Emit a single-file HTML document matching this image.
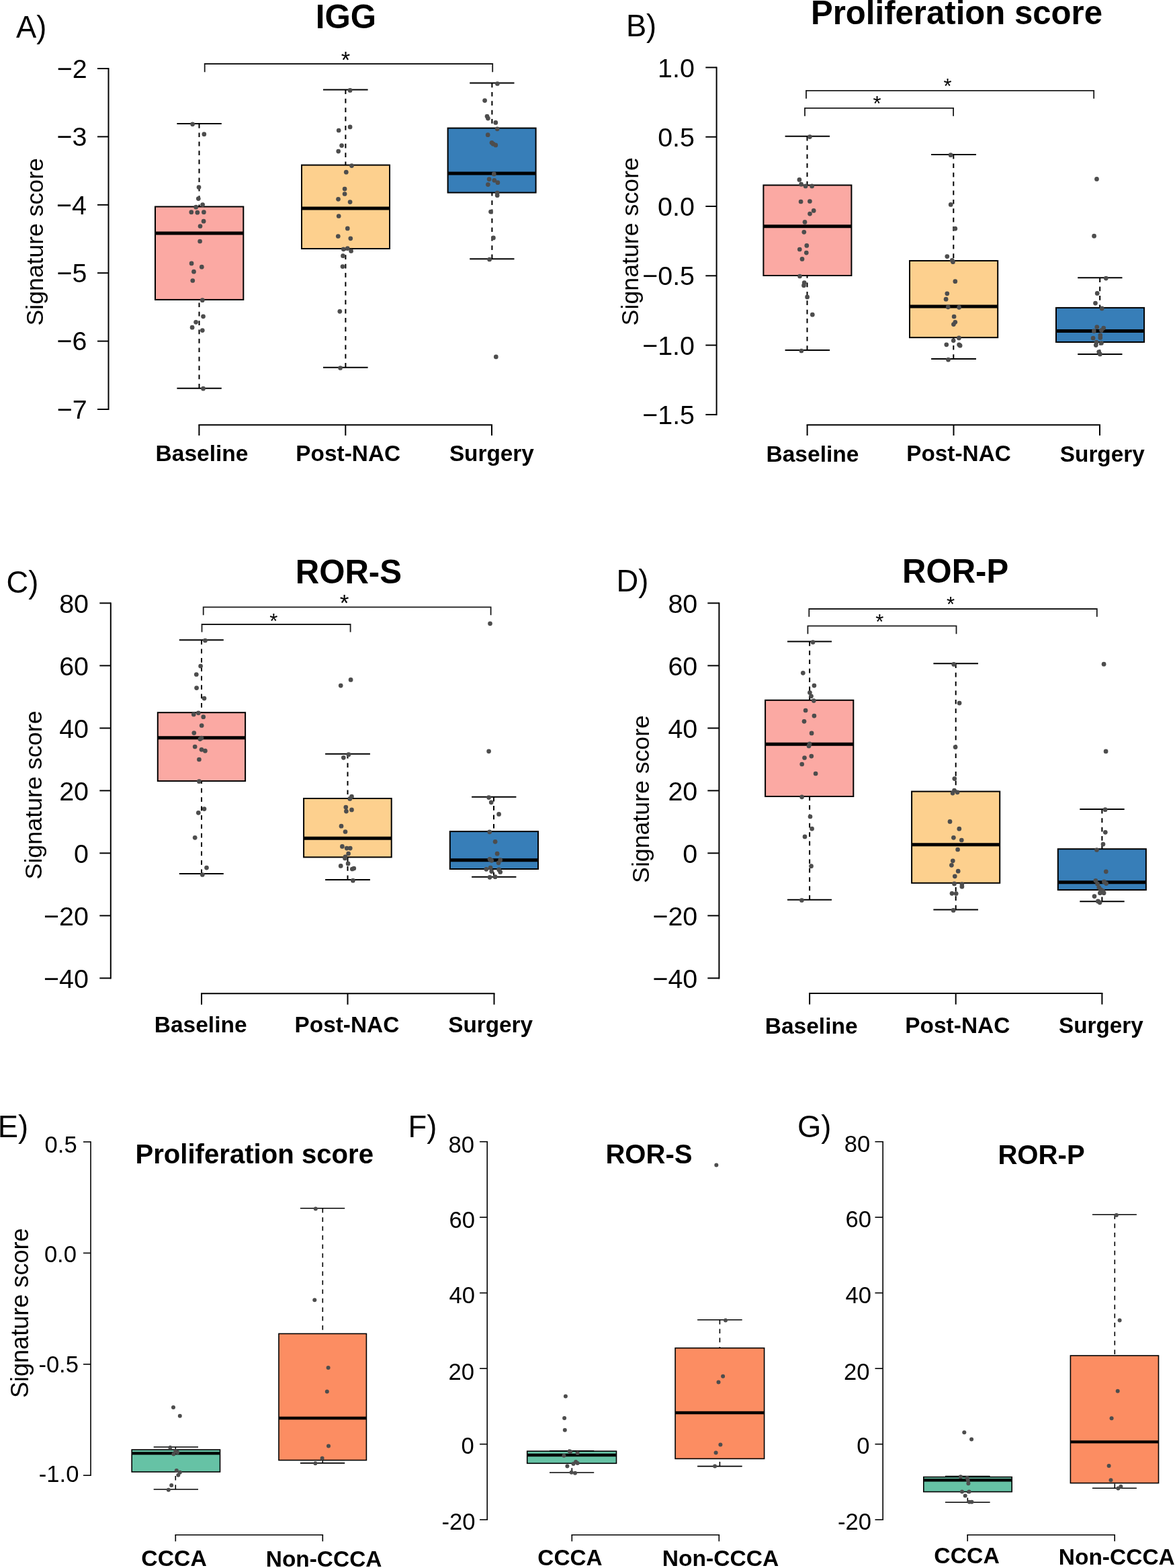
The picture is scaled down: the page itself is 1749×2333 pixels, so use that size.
<!DOCTYPE html>
<html><head><meta charset="utf-8"><title>Signature score boxplots</title>
<style>
html,body{margin:0;padding:0;background:#fff;overflow:hidden;}
svg{display:block;}
svg text{font-family:'Liberation Sans', Arial, Helvetica, sans-serif;fill:#000;}
svg circle{fill:#4D4D4D;}
</style></head><body>
<svg width="1749" height="2333" viewBox="0 0 1749 2333">
<rect width="1749" height="2333" fill="#fff"/>
<text x="24.02" y="56" font-size="45.3">A)</text>
<text x="469.77" y="41.8" font-size="49.28" font-weight="bold">IGG</text>
<line x1="161.5" y1="102" x2="161.5" y2="609" stroke="#000" stroke-width="2" stroke-linecap="square"/>
<line x1="145" y1="102" x2="161.5" y2="102" stroke="#000" stroke-width="2"/>
<text x="84.85" y="115.84" font-size="39.4">−2</text>
<line x1="145" y1="203.4" x2="161.5" y2="203.4" stroke="#000" stroke-width="2"/>
<text x="84.56" y="217.24" font-size="39.4">−3</text>
<line x1="145" y1="304.8" x2="161.5" y2="304.8" stroke="#000" stroke-width="2"/>
<text x="83.97" y="318.64" font-size="39.4">−4</text>
<line x1="145" y1="406.2" x2="161.5" y2="406.2" stroke="#000" stroke-width="2"/>
<text x="84.46" y="420.04" font-size="39.4">−5</text>
<line x1="145" y1="507.6" x2="161.5" y2="507.6" stroke="#000" stroke-width="2"/>
<text x="84.56" y="521.44" font-size="39.4">−6</text>
<line x1="145" y1="609" x2="161.5" y2="609" stroke="#000" stroke-width="2"/>
<text x="84.85" y="622.84" font-size="39.4">−7</text>
<text transform="translate(64.1,484.4) rotate(-90)" x="0" y="0" font-size="35.6">Signature score</text>
<line x1="296.4" y1="632.3" x2="732" y2="632.3" stroke="#000" stroke-width="2" stroke-linecap="square"/>
<line x1="296.4" y1="632.3" x2="296.4" y2="648" stroke="#000" stroke-width="2"/>
<line x1="514.3" y1="632.3" x2="514.3" y2="648" stroke="#000" stroke-width="2"/>
<line x1="732" y1="632.3" x2="732" y2="648" stroke="#000" stroke-width="2"/>
<text x="231.54" y="686" font-size="33.55" font-weight="bold">Baseline</text>
<text x="440.35" y="686" font-size="33.4" font-weight="bold">Post-NAC</text>
<text x="668.9" y="686" font-size="33.35" font-weight="bold">Surgery</text>
<path d="M304.7 107.2V95H733.2V107.2" fill="none" stroke="#1a1a1a" stroke-width="1.8"/>
<text x="507.86" y="100.97" font-size="34.57">*</text>
<line x1="296.5" y1="184" x2="296.5" y2="307.5" stroke="#000" stroke-width="2" stroke-dasharray="6.7 6.7"/>
<line x1="296.5" y1="577.7" x2="296.5" y2="445.9" stroke="#000" stroke-width="2" stroke-dasharray="6.7 6.7"/>
<line x1="263.4" y1="184" x2="329.8" y2="184" stroke="#000" stroke-width="2"/>
<line x1="263.4" y1="577.7" x2="329.8" y2="577.7" stroke="#000" stroke-width="2"/>
<rect x="231" y="307.5" width="131.3" height="138.4" fill="#FBA9A3" stroke="#000" stroke-width="2"/>
<line x1="231" y1="347" x2="362.3" y2="347" stroke="#000" stroke-width="5"/>
<line x1="514.4" y1="133.4" x2="514.4" y2="245.6" stroke="#000" stroke-width="2" stroke-dasharray="6.7 6.7"/>
<line x1="514.4" y1="546.8" x2="514.4" y2="370" stroke="#000" stroke-width="2" stroke-dasharray="6.7 6.7"/>
<line x1="481" y1="133.4" x2="547.6" y2="133.4" stroke="#000" stroke-width="2"/>
<line x1="481" y1="546.8" x2="547.6" y2="546.8" stroke="#000" stroke-width="2"/>
<rect x="449" y="245.6" width="131" height="124.4" fill="#FDD08E" stroke="#000" stroke-width="2"/>
<line x1="449" y1="310" x2="580" y2="310" stroke="#000" stroke-width="5"/>
<line x1="732.4" y1="123.5" x2="732.4" y2="190.6" stroke="#000" stroke-width="2" stroke-dasharray="6.7 6.7"/>
<line x1="732.4" y1="385.3" x2="732.4" y2="286.6" stroke="#000" stroke-width="2" stroke-dasharray="6.7 6.7"/>
<line x1="699.2" y1="123.5" x2="765.5" y2="123.5" stroke="#000" stroke-width="2"/>
<line x1="699.2" y1="385.3" x2="765.5" y2="385.3" stroke="#000" stroke-width="2"/>
<rect x="666.6" y="190.6" width="131" height="96" fill="#377EB8" stroke="#000" stroke-width="2"/>
<line x1="666.6" y1="258.1" x2="797.6" y2="258.1" stroke="#000" stroke-width="5"/>
<circle cx="286.6" cy="184.8" r="3.35"/>
<circle cx="303.8" cy="199.7" r="3.35"/>
<circle cx="296" cy="278.6" r="3.35"/>
<circle cx="295.3" cy="295.6" r="3.35"/>
<circle cx="301.6" cy="304.6" r="3.35"/>
<circle cx="291.7" cy="308.2" r="3.35"/>
<circle cx="284.8" cy="315.7" r="3.35"/>
<circle cx="293.8" cy="316.2" r="3.35"/>
<circle cx="303.4" cy="315.7" r="3.35"/>
<circle cx="303.1" cy="329.2" r="3.35"/>
<circle cx="298" cy="336.5" r="3.35"/>
<circle cx="297.6" cy="359" r="3.35"/>
<circle cx="285.1" cy="391.9" r="3.35"/>
<circle cx="300.3" cy="397.2" r="3.35"/>
<circle cx="288.5" cy="404.2" r="3.35"/>
<circle cx="286.8" cy="417.5" r="3.35"/>
<circle cx="301.3" cy="446.7" r="3.35"/>
<circle cx="302.5" cy="470.8" r="3.35"/>
<circle cx="291.6" cy="479.3" r="3.35"/>
<circle cx="286.1" cy="487.2" r="3.35"/>
<circle cx="301.3" cy="491.6" r="3.35"/>
<circle cx="302.5" cy="578.2" r="3.35"/>
<circle cx="521.1" cy="134.4" r="3.35"/>
<circle cx="521.1" cy="188.9" r="3.35"/>
<circle cx="504.2" cy="194" r="3.35"/>
<circle cx="508.6" cy="216.6" r="3.35"/>
<circle cx="503.7" cy="225.1" r="3.35"/>
<circle cx="523.5" cy="246.6" r="3.35"/>
<circle cx="515.3" cy="256.2" r="3.35"/>
<circle cx="513.1" cy="281.1" r="3.35"/>
<circle cx="513.1" cy="288.5" r="3.35"/>
<circle cx="503.5" cy="296.3" r="3.35"/>
<circle cx="521.1" cy="300.6" r="3.35"/>
<circle cx="504.2" cy="321.5" r="3.35"/>
<circle cx="517.3" cy="339.9" r="3.35"/>
<circle cx="503.3" cy="351.5" r="3.35"/>
<circle cx="521.8" cy="354.8" r="3.35"/>
<circle cx="511.2" cy="370.8" r="3.35"/>
<circle cx="517.3" cy="369.6" r="3.35"/>
<circle cx="522.6" cy="373.5" r="3.35"/>
<circle cx="510.5" cy="380.7" r="3.35"/>
<circle cx="510" cy="396.6" r="3.35"/>
<circle cx="505.8" cy="463.3" r="3.35"/>
<circle cx="506.6" cy="547.5" r="3.35"/>
<circle cx="740.4" cy="124.5" r="3.35"/>
<circle cx="721.6" cy="149.6" r="3.35"/>
<circle cx="725" cy="173" r="3.35"/>
<circle cx="726.4" cy="176.1" r="3.35"/>
<circle cx="737.8" cy="182.4" r="3.35"/>
<circle cx="740.2" cy="191.8" r="3.35"/>
<circle cx="726.2" cy="200.7" r="3.35"/>
<circle cx="732" cy="212.3" r="3.35"/>
<circle cx="734.1" cy="214.2" r="3.35"/>
<circle cx="737.8" cy="215.9" r="3.35"/>
<circle cx="735.3" cy="258.9" r="3.35"/>
<circle cx="728.1" cy="266.6" r="3.35"/>
<circle cx="735.8" cy="268.3" r="3.35"/>
<circle cx="740.9" cy="271.7" r="3.35"/>
<circle cx="726.4" cy="274.6" r="3.35"/>
<circle cx="740.2" cy="287.1" r="3.35"/>
<circle cx="740.2" cy="290.7" r="3.35"/>
<circle cx="730.5" cy="315.1" r="3.35"/>
<circle cx="734.4" cy="353.9" r="3.35"/>
<circle cx="728.6" cy="386" r="3.35"/>
<circle cx="738.3" cy="530.9" r="3.35"/>
<text x="931.92" y="54.2" font-size="45.3">B)</text>
<text x="1206.98" y="35.8" font-size="49.14" font-weight="bold">Proliferation score</text>
<line x1="1066.6" y1="100.4" x2="1066.6" y2="616.9" stroke="#000" stroke-width="2" stroke-linecap="square"/>
<line x1="1050.3" y1="100.4" x2="1066.6" y2="100.4" stroke="#000" stroke-width="2"/>
<text x="979.11" y="114.54" font-size="39.4">1.0</text>
<line x1="1050.3" y1="203.7" x2="1066.6" y2="203.7" stroke="#000" stroke-width="2"/>
<text x="979.21" y="217.84" font-size="39.4">0.5</text>
<line x1="1050.3" y1="307" x2="1066.6" y2="307" stroke="#000" stroke-width="2"/>
<text x="979.11" y="321.14" font-size="39.4">0.0</text>
<line x1="1050.3" y1="410.3" x2="1066.6" y2="410.3" stroke="#000" stroke-width="2"/>
<text x="956.26" y="424.44" font-size="39.4">−0.5</text>
<line x1="1050.3" y1="513.6" x2="1066.6" y2="513.6" stroke="#000" stroke-width="2"/>
<text x="956.16" y="527.74" font-size="39.4">−1.0</text>
<line x1="1050.3" y1="616.9" x2="1066.6" y2="616.9" stroke="#000" stroke-width="2"/>
<text x="956.26" y="631.04" font-size="39.4">−1.5</text>
<text transform="translate(949.8,484.41) rotate(-90)" x="0" y="0" font-size="35.75">Signature score</text>
<line x1="1201.6" y1="632.2" x2="1637" y2="632.2" stroke="#000" stroke-width="2" stroke-linecap="square"/>
<line x1="1201.6" y1="632.2" x2="1201.6" y2="648" stroke="#000" stroke-width="2"/>
<line x1="1419.5" y1="632.2" x2="1419.5" y2="648" stroke="#000" stroke-width="2"/>
<line x1="1637" y1="632.2" x2="1637" y2="648" stroke="#000" stroke-width="2"/>
<text x="1140.44" y="687" font-size="33.55" font-weight="bold">Baseline</text>
<text x="1349.25" y="686" font-size="33.33" font-weight="bold">Post-NAC</text>
<text x="1577.8" y="687" font-size="33.35" font-weight="bold">Surgery</text>
<path d="M1200 146.8V134.8H1628.2V146.8" fill="none" stroke="#1a1a1a" stroke-width="1.8"/>
<text x="1404.48" y="139.01" font-size="30.86">*</text>
<path d="M1198 172.8V160.8H1419.1V172.8" fill="none" stroke="#1a1a1a" stroke-width="1.8"/>
<text x="1299.58" y="164.91" font-size="30.86">*</text>
<line x1="1201.5" y1="202.8" x2="1201.5" y2="275.5" stroke="#000" stroke-width="2" stroke-dasharray="6.7 6.7"/>
<line x1="1201.5" y1="521" x2="1201.5" y2="410" stroke="#000" stroke-width="2" stroke-dasharray="6.7 6.7"/>
<line x1="1168.6" y1="202.8" x2="1235.1" y2="202.8" stroke="#000" stroke-width="2"/>
<line x1="1168.6" y1="521" x2="1235.1" y2="521" stroke="#000" stroke-width="2"/>
<rect x="1136.4" y="275.5" width="131" height="134.5" fill="#FBA9A3" stroke="#000" stroke-width="2"/>
<line x1="1136.4" y1="336.8" x2="1267.4" y2="336.8" stroke="#000" stroke-width="5"/>
<line x1="1419.3" y1="229.9" x2="1419.3" y2="388" stroke="#000" stroke-width="2" stroke-dasharray="6.7 6.7"/>
<line x1="1419.3" y1="534" x2="1419.3" y2="502.2" stroke="#000" stroke-width="2" stroke-dasharray="6.7 6.7"/>
<line x1="1386.1" y1="229.9" x2="1453" y2="229.9" stroke="#000" stroke-width="2"/>
<line x1="1386.1" y1="534" x2="1453" y2="534" stroke="#000" stroke-width="2"/>
<rect x="1354" y="388" width="131.2" height="114.2" fill="#FDD08E" stroke="#000" stroke-width="2"/>
<line x1="1354" y1="456.1" x2="1485.2" y2="456.1" stroke="#000" stroke-width="5"/>
<line x1="1637.2" y1="413.2" x2="1637.2" y2="457.9" stroke="#000" stroke-width="2" stroke-dasharray="6.7 6.7"/>
<line x1="1637.2" y1="526.9" x2="1637.2" y2="509" stroke="#000" stroke-width="2" stroke-dasharray="6.7 6.7"/>
<line x1="1604.2" y1="413.2" x2="1670.5" y2="413.2" stroke="#000" stroke-width="2"/>
<line x1="1604.2" y1="526.9" x2="1670.5" y2="526.9" stroke="#000" stroke-width="2"/>
<rect x="1572" y="457.9" width="131.1" height="51.1" fill="#377EB8" stroke="#000" stroke-width="2"/>
<line x1="1572" y1="492.6" x2="1703.1" y2="492.6" stroke="#000" stroke-width="5"/>
<circle cx="1205.4" cy="203.6" r="3.35"/>
<circle cx="1189.9" cy="267.4" r="3.35"/>
<circle cx="1192.6" cy="274.2" r="3.35"/>
<circle cx="1199.1" cy="276.9" r="3.35"/>
<circle cx="1208.6" cy="276.9" r="3.35"/>
<circle cx="1192.1" cy="300" r="3.35"/>
<circle cx="1205.4" cy="299.5" r="3.35"/>
<circle cx="1211.2" cy="313.4" r="3.35"/>
<circle cx="1205.5" cy="318.1" r="3.35"/>
<circle cx="1198" cy="330.4" r="3.35"/>
<circle cx="1196.8" cy="345.3" r="3.35"/>
<circle cx="1200.8" cy="365.4" r="3.35"/>
<circle cx="1190.3" cy="371" r="3.35"/>
<circle cx="1200.3" cy="376.1" r="3.35"/>
<circle cx="1194" cy="385.4" r="3.35"/>
<circle cx="1190.5" cy="411" r="3.35"/>
<circle cx="1197.2" cy="420.6" r="3.35"/>
<circle cx="1196.5" cy="424.7" r="3.35"/>
<circle cx="1201.6" cy="441.9" r="3.35"/>
<circle cx="1209.3" cy="468.2" r="3.35"/>
<circle cx="1192.9" cy="522" r="3.35"/>
<circle cx="1415.1" cy="230.7" r="3.35"/>
<circle cx="1415.2" cy="304.4" r="3.35"/>
<circle cx="1421.8" cy="340.2" r="3.35"/>
<circle cx="1409.8" cy="381.6" r="3.35"/>
<circle cx="1417.2" cy="387.3" r="3.35"/>
<circle cx="1418.5" cy="389.7" r="3.35"/>
<circle cx="1421.8" cy="418.7" r="3.35"/>
<circle cx="1409.8" cy="436.8" r="3.35"/>
<circle cx="1408.1" cy="445.2" r="3.35"/>
<circle cx="1411.2" cy="456.8" r="3.35"/>
<circle cx="1427.6" cy="457.3" r="3.35"/>
<circle cx="1420.1" cy="471" r="3.35"/>
<circle cx="1421.8" cy="479.3" r="3.35"/>
<circle cx="1419.4" cy="482.6" r="3.35"/>
<circle cx="1427.4" cy="502.9" r="3.35"/>
<circle cx="1419.2" cy="506.8" r="3.35"/>
<circle cx="1408.8" cy="512.8" r="3.35"/>
<circle cx="1427.6" cy="512.8" r="3.35"/>
<circle cx="1429.1" cy="514.2" r="3.35"/>
<circle cx="1411.5" cy="535.2" r="3.35"/>
<circle cx="1632.5" cy="266.4" r="3.35"/>
<circle cx="1628.6" cy="351.2" r="3.35"/>
<circle cx="1646.3" cy="414.1" r="3.35"/>
<circle cx="1633.2" cy="436.4" r="3.35"/>
<circle cx="1630.5" cy="451.1" r="3.35"/>
<circle cx="1640.2" cy="458.9" r="3.35"/>
<circle cx="1632.8" cy="486.5" r="3.35"/>
<circle cx="1642.7" cy="488" r="3.35"/>
<circle cx="1628.4" cy="492.6" r="3.35"/>
<circle cx="1639.5" cy="491.5" r="3.35"/>
<circle cx="1637.8" cy="498.9" r="3.35"/>
<circle cx="1627.1" cy="503.1" r="3.35"/>
<circle cx="1637.8" cy="502.5" r="3.35"/>
<circle cx="1632" cy="509.4" r="3.35"/>
<circle cx="1639.5" cy="510.5" r="3.35"/>
<circle cx="1631.3" cy="513.6" r="3.35"/>
<circle cx="1635.7" cy="523.5" r="3.35"/>
<circle cx="1637.4" cy="526.9" r="3.35"/>
<text x="9.43" y="882.2" font-size="45.3">C)</text>
<text x="439.68" y="867.8" font-size="49.15" font-weight="bold">ROR-S</text>
<line x1="164.8" y1="897.4" x2="164.8" y2="1455.4" stroke="#000" stroke-width="2" stroke-linecap="square"/>
<line x1="148.3" y1="897.4" x2="164.8" y2="897.4" stroke="#000" stroke-width="2"/>
<text x="88.14" y="911.84" font-size="39.4">80</text>
<line x1="148.3" y1="990.4" x2="164.8" y2="990.4" stroke="#000" stroke-width="2"/>
<text x="88.14" y="1004.84" font-size="39.4">60</text>
<line x1="148.3" y1="1083.4" x2="164.8" y2="1083.4" stroke="#000" stroke-width="2"/>
<text x="88.14" y="1097.84" font-size="39.4">40</text>
<line x1="148.3" y1="1176.4" x2="164.8" y2="1176.4" stroke="#000" stroke-width="2"/>
<text x="88.14" y="1190.84" font-size="39.4">20</text>
<line x1="148.3" y1="1269.4" x2="164.8" y2="1269.4" stroke="#000" stroke-width="2"/>
<text x="110.01" y="1283.84" font-size="39.4">0</text>
<line x1="148.3" y1="1362.4" x2="164.8" y2="1362.4" stroke="#000" stroke-width="2"/>
<text x="65.09" y="1376.84" font-size="39.4">−20</text>
<line x1="148.3" y1="1455.4" x2="164.8" y2="1455.4" stroke="#000" stroke-width="2"/>
<text x="65.09" y="1469.84" font-size="39.4">−40</text>
<text transform="translate(62.4,1308.51) rotate(-90)" x="0" y="0" font-size="35.86">Signature score</text>
<line x1="300" y1="1478.2" x2="735.5" y2="1478.2" stroke="#000" stroke-width="2" stroke-linecap="square"/>
<line x1="300" y1="1478.2" x2="300" y2="1494.7" stroke="#000" stroke-width="2"/>
<line x1="517.5" y1="1478.2" x2="517.5" y2="1494.7" stroke="#000" stroke-width="2"/>
<line x1="735.5" y1="1478.2" x2="735.5" y2="1494.7" stroke="#000" stroke-width="2"/>
<text x="229.84" y="1536" font-size="33.47" font-weight="bold">Baseline</text>
<text x="438.44" y="1536" font-size="33.42" font-weight="bold">Post-NAC</text>
<text x="667.2" y="1536" font-size="33.29" font-weight="bold">Surgery</text>
<path d="M302.7 915.3V903.4H730.6V915.3" fill="none" stroke="#1a1a1a" stroke-width="1.8"/>
<text x="505.75" y="909.26" font-size="35.14">*</text>
<path d="M300.5 940.6V929H521.6V940.6" fill="none" stroke="#1a1a1a" stroke-width="1.8"/>
<text x="401.13" y="935.01" font-size="31.14">*</text>
<line x1="300" y1="952.2" x2="300" y2="1060.2" stroke="#000" stroke-width="2" stroke-dasharray="6.7 6.7"/>
<line x1="300" y1="1300.1" x2="300" y2="1162.1" stroke="#000" stroke-width="2" stroke-dasharray="6.7 6.7"/>
<line x1="266.8" y1="952.2" x2="332.8" y2="952.2" stroke="#000" stroke-width="2"/>
<line x1="266.8" y1="1300.1" x2="332.8" y2="1300.1" stroke="#000" stroke-width="2"/>
<rect x="234.8" y="1060.2" width="130.3" height="101.9" fill="#FBA9A3" stroke="#000" stroke-width="2"/>
<line x1="234.8" y1="1097.7" x2="365.1" y2="1097.7" stroke="#000" stroke-width="5"/>
<line x1="517.5" y1="1121.8" x2="517.5" y2="1188" stroke="#000" stroke-width="2" stroke-dasharray="6.7 6.7"/>
<line x1="517.5" y1="1309.1" x2="517.5" y2="1275.4" stroke="#000" stroke-width="2" stroke-dasharray="6.7 6.7"/>
<line x1="484.1" y1="1121.8" x2="550.9" y2="1121.8" stroke="#000" stroke-width="2"/>
<line x1="484.1" y1="1309.1" x2="550.9" y2="1309.1" stroke="#000" stroke-width="2"/>
<rect x="452.1" y="1188" width="130.6" height="87.4" fill="#FDD08E" stroke="#000" stroke-width="2"/>
<line x1="452.1" y1="1247.2" x2="582.7" y2="1247.2" stroke="#000" stroke-width="5"/>
<line x1="735" y1="1185.7" x2="735" y2="1237.1" stroke="#000" stroke-width="2" stroke-dasharray="6.7 6.7"/>
<line x1="735" y1="1304.7" x2="735" y2="1293" stroke="#000" stroke-width="2" stroke-dasharray="6.7 6.7"/>
<line x1="702.1" y1="1185.7" x2="768.4" y2="1185.7" stroke="#000" stroke-width="2"/>
<line x1="702.1" y1="1304.7" x2="768.4" y2="1304.7" stroke="#000" stroke-width="2"/>
<rect x="669.8" y="1237.1" width="131.2" height="55.9" fill="#377EB8" stroke="#000" stroke-width="2"/>
<line x1="669.8" y1="1279.7" x2="801" y2="1279.7" stroke="#000" stroke-width="5"/>
<circle cx="305.4" cy="953" r="3.35"/>
<circle cx="298.6" cy="991" r="3.35"/>
<circle cx="292.3" cy="1003.5" r="3.35"/>
<circle cx="292.6" cy="1023.6" r="3.35"/>
<circle cx="304" cy="1039.1" r="3.35"/>
<circle cx="288.3" cy="1062.9" r="3.35"/>
<circle cx="295.3" cy="1060.8" r="3.35"/>
<circle cx="302.7" cy="1066.7" r="3.35"/>
<circle cx="300.2" cy="1079.5" r="3.35"/>
<circle cx="288.8" cy="1090.6" r="3.35"/>
<circle cx="300" cy="1098" r="3.35"/>
<circle cx="297.8" cy="1099.6" r="3.35"/>
<circle cx="290.2" cy="1111" r="3.35"/>
<circle cx="300" cy="1115.3" r="3.35"/>
<circle cx="305.4" cy="1117.2" r="3.35"/>
<circle cx="296.4" cy="1130" r="3.35"/>
<circle cx="296.4" cy="1162.7" r="3.35"/>
<circle cx="304" cy="1203.6" r="3.35"/>
<circle cx="295.3" cy="1209.3" r="3.35"/>
<circle cx="290.2" cy="1246.3" r="3.35"/>
<circle cx="307.5" cy="1291.1" r="3.35"/>
<circle cx="301.3" cy="1301.5" r="3.35"/>
<circle cx="507.2" cy="1020.1" r="3.35"/>
<circle cx="522.1" cy="1011.4" r="3.35"/>
<circle cx="518.9" cy="1122.7" r="3.35"/>
<circle cx="511.3" cy="1127.3" r="3.35"/>
<circle cx="523.5" cy="1185.1" r="3.35"/>
<circle cx="520.8" cy="1188.4" r="3.35"/>
<circle cx="514.8" cy="1201.1" r="3.35"/>
<circle cx="515.4" cy="1207.1" r="3.35"/>
<circle cx="523.5" cy="1204.9" r="3.35"/>
<circle cx="508" cy="1229.2" r="3.35"/>
<circle cx="514" cy="1237.5" r="3.35"/>
<circle cx="509.4" cy="1259.4" r="3.35"/>
<circle cx="516.2" cy="1262.1" r="3.35"/>
<circle cx="521.3" cy="1262.1" r="3.35"/>
<circle cx="518.6" cy="1270" r="3.35"/>
<circle cx="514" cy="1274.9" r="3.35"/>
<circle cx="513.5" cy="1277" r="3.35"/>
<circle cx="518.1" cy="1284.9" r="3.35"/>
<circle cx="507.2" cy="1288.4" r="3.35"/>
<circle cx="524.3" cy="1293" r="3.35"/>
<circle cx="526.8" cy="1292" r="3.35"/>
<circle cx="525.4" cy="1310.2" r="3.35"/>
<circle cx="729.5" cy="927.8" r="3.35"/>
<circle cx="727.6" cy="1117.8" r="3.35"/>
<circle cx="727.6" cy="1186.6" r="3.35"/>
<circle cx="731.2" cy="1193.8" r="3.35"/>
<circle cx="742.6" cy="1211.4" r="3.35"/>
<circle cx="728.7" cy="1237.8" r="3.35"/>
<circle cx="737.1" cy="1252.3" r="3.35"/>
<circle cx="740.1" cy="1270.2" r="3.35"/>
<circle cx="729" cy="1278.4" r="3.35"/>
<circle cx="731.7" cy="1280.3" r="3.35"/>
<circle cx="744.7" cy="1279.5" r="3.35"/>
<circle cx="742" cy="1283.8" r="3.35"/>
<circle cx="723.8" cy="1293.3" r="3.35"/>
<circle cx="730.1" cy="1291.2" r="3.35"/>
<circle cx="731.7" cy="1296.6" r="3.35"/>
<circle cx="742.6" cy="1293.9" r="3.35"/>
<circle cx="744.7" cy="1297.4" r="3.35"/>
<circle cx="729" cy="1305.3" r="3.35"/>
<circle cx="737.1" cy="1304.7" r="3.35"/>
<text x="917.43" y="880.2" font-size="45.3">D)</text>
<text x="1343.09" y="866.9" font-size="49.07" font-weight="bold">ROR-P</text>
<line x1="1070.4" y1="897.4" x2="1070.4" y2="1455.4" stroke="#000" stroke-width="2" stroke-linecap="square"/>
<line x1="1053.3" y1="897.4" x2="1070.4" y2="897.4" stroke="#000" stroke-width="2"/>
<text x="994.44" y="911.84" font-size="39.4">80</text>
<line x1="1053.3" y1="990.4" x2="1070.4" y2="990.4" stroke="#000" stroke-width="2"/>
<text x="994.44" y="1004.84" font-size="39.4">60</text>
<line x1="1053.3" y1="1083.4" x2="1070.4" y2="1083.4" stroke="#000" stroke-width="2"/>
<text x="994.44" y="1097.84" font-size="39.4">40</text>
<line x1="1053.3" y1="1176.4" x2="1070.4" y2="1176.4" stroke="#000" stroke-width="2"/>
<text x="994.44" y="1190.84" font-size="39.4">20</text>
<line x1="1053.3" y1="1269.4" x2="1070.4" y2="1269.4" stroke="#000" stroke-width="2"/>
<text x="1016.31" y="1283.84" font-size="39.4">0</text>
<line x1="1053.3" y1="1362.4" x2="1070.4" y2="1362.4" stroke="#000" stroke-width="2"/>
<text x="971.39" y="1376.84" font-size="39.4">−20</text>
<line x1="1053.3" y1="1455.4" x2="1070.4" y2="1455.4" stroke="#000" stroke-width="2"/>
<text x="971.39" y="1469.84" font-size="39.4">−40</text>
<text transform="translate(966,1313.9) rotate(-90)" x="0" y="0" font-size="35.66">Signature score</text>
<line x1="1205.1" y1="1478" x2="1640.4" y2="1478" stroke="#000" stroke-width="2" stroke-linecap="square"/>
<line x1="1205.1" y1="1478" x2="1205.1" y2="1494.5" stroke="#000" stroke-width="2"/>
<line x1="1422.7" y1="1478" x2="1422.7" y2="1494.5" stroke="#000" stroke-width="2"/>
<line x1="1640.4" y1="1478" x2="1640.4" y2="1494.5" stroke="#000" stroke-width="2"/>
<text x="1138.74" y="1538.2" font-size="33.5" font-weight="bold">Baseline</text>
<text x="1347.34" y="1537.2" font-size="33.44" font-weight="bold">Post-NAC</text>
<text x="1576" y="1537.2" font-size="33.29" font-weight="bold">Surgery</text>
<path d="M1204.3 917.8V906H1632.8V917.8" fill="none" stroke="#1a1a1a" stroke-width="1.8"/>
<text x="1409.03" y="910.41" font-size="31.14">*</text>
<path d="M1202.4 943.3V931.3H1423.5V943.3" fill="none" stroke="#1a1a1a" stroke-width="1.8"/>
<text x="1303.23" y="936.41" font-size="31.14">*</text>
<line x1="1205.1" y1="954.6" x2="1205.1" y2="1041.8" stroke="#000" stroke-width="2" stroke-dasharray="6.7 6.7"/>
<line x1="1205.1" y1="1338.7" x2="1205.1" y2="1185" stroke="#000" stroke-width="2" stroke-dasharray="6.7 6.7"/>
<line x1="1172" y1="954.6" x2="1238" y2="954.6" stroke="#000" stroke-width="2"/>
<line x1="1172" y1="1338.7" x2="1238" y2="1338.7" stroke="#000" stroke-width="2"/>
<rect x="1139.1" y="1041.8" width="131.2" height="143.2" fill="#FBA9A3" stroke="#000" stroke-width="2"/>
<line x1="1139.1" y1="1107.2" x2="1270.3" y2="1107.2" stroke="#000" stroke-width="5"/>
<line x1="1422.7" y1="987.3" x2="1422.7" y2="1177.6" stroke="#000" stroke-width="2" stroke-dasharray="6.7 6.7"/>
<line x1="1422.7" y1="1353.4" x2="1422.7" y2="1313.8" stroke="#000" stroke-width="2" stroke-dasharray="6.7 6.7"/>
<line x1="1389.4" y1="987.3" x2="1456" y2="987.3" stroke="#000" stroke-width="2"/>
<line x1="1389.4" y1="1353.4" x2="1456" y2="1353.4" stroke="#000" stroke-width="2"/>
<rect x="1357.1" y="1177.6" width="131.1" height="136.2" fill="#FDD08E" stroke="#000" stroke-width="2"/>
<line x1="1357.1" y1="1256.7" x2="1488.2" y2="1256.7" stroke="#000" stroke-width="5"/>
<line x1="1640.4" y1="1203.9" x2="1640.4" y2="1263.2" stroke="#000" stroke-width="2" stroke-dasharray="6.7 6.7"/>
<line x1="1640.4" y1="1341.2" x2="1640.4" y2="1324.1" stroke="#000" stroke-width="2" stroke-dasharray="6.7 6.7"/>
<line x1="1607.3" y1="1203.9" x2="1673.7" y2="1203.9" stroke="#000" stroke-width="2"/>
<line x1="1607.3" y1="1341.2" x2="1673.7" y2="1341.2" stroke="#000" stroke-width="2"/>
<rect x="1574.8" y="1263.2" width="131.1" height="60.9" fill="#377EB8" stroke="#000" stroke-width="2"/>
<line x1="1574.8" y1="1312.7" x2="1705.9" y2="1312.7" stroke="#000" stroke-width="5"/>
<circle cx="1210" cy="955.5" r="3.35"/>
<circle cx="1195.3" cy="1001.3" r="3.35"/>
<circle cx="1211.9" cy="1020.1" r="3.35"/>
<circle cx="1205.4" cy="1030.6" r="3.35"/>
<circle cx="1207.5" cy="1035.8" r="3.35"/>
<circle cx="1211.3" cy="1042.6" r="3.35"/>
<circle cx="1199.1" cy="1057" r="3.35"/>
<circle cx="1211.9" cy="1065.1" r="3.35"/>
<circle cx="1197" cy="1073.3" r="3.35"/>
<circle cx="1208.1" cy="1090.9" r="3.35"/>
<circle cx="1205.1" cy="1106.9" r="3.35"/>
<circle cx="1204" cy="1109.9" r="3.35"/>
<circle cx="1197.5" cy="1127.5" r="3.35"/>
<circle cx="1207.8" cy="1125.1" r="3.35"/>
<circle cx="1193.7" cy="1137" r="3.35"/>
<circle cx="1214.1" cy="1151" r="3.35"/>
<circle cx="1193.6" cy="1185.8" r="3.35"/>
<circle cx="1206" cy="1215" r="3.35"/>
<circle cx="1208.6" cy="1233.1" r="3.35"/>
<circle cx="1198" cy="1244.9" r="3.35"/>
<circle cx="1207.5" cy="1288.7" r="3.35"/>
<circle cx="1193.4" cy="1339.5" r="3.35"/>
<circle cx="1419.7" cy="988.4" r="3.35"/>
<circle cx="1428.1" cy="1046.1" r="3.35"/>
<circle cx="1422.1" cy="1111.6" r="3.35"/>
<circle cx="1420.8" cy="1158.6" r="3.35"/>
<circle cx="1420.5" cy="1176.1" r="3.35"/>
<circle cx="1418.1" cy="1180.1" r="3.35"/>
<circle cx="1425.1" cy="1178.8" r="3.35"/>
<circle cx="1414" cy="1222.4" r="3.35"/>
<circle cx="1427.8" cy="1233.2" r="3.35"/>
<circle cx="1419.4" cy="1246.3" r="3.35"/>
<circle cx="1431.3" cy="1250" r="3.35"/>
<circle cx="1425.6" cy="1264" r="3.35"/>
<circle cx="1418.3" cy="1280.8" r="3.35"/>
<circle cx="1416.4" cy="1287.3" r="3.35"/>
<circle cx="1426.2" cy="1296.2" r="3.35"/>
<circle cx="1421.3" cy="1303.8" r="3.35"/>
<circle cx="1420.5" cy="1314.9" r="3.35"/>
<circle cx="1431.9" cy="1315.7" r="3.35"/>
<circle cx="1431.9" cy="1319.2" r="3.35"/>
<circle cx="1417" cy="1329.3" r="3.35"/>
<circle cx="1423.2" cy="1329.5" r="3.35"/>
<circle cx="1419.1" cy="1354.4" r="3.35"/>
<circle cx="1643.1" cy="988.2" r="3.35"/>
<circle cx="1646.1" cy="1117.9" r="3.35"/>
<circle cx="1645.1" cy="1204.7" r="3.35"/>
<circle cx="1645.3" cy="1238.3" r="3.35"/>
<circle cx="1642" cy="1256.1" r="3.35"/>
<circle cx="1632.5" cy="1264.5" r="3.35"/>
<circle cx="1646.3" cy="1296.8" r="3.35"/>
<circle cx="1630.9" cy="1310.3" r="3.35"/>
<circle cx="1633.6" cy="1315.2" r="3.35"/>
<circle cx="1643.4" cy="1311.9" r="3.35"/>
<circle cx="1646.6" cy="1314.6" r="3.35"/>
<circle cx="1635.8" cy="1320.6" r="3.35"/>
<circle cx="1641.7" cy="1325.5" r="3.35"/>
<circle cx="1638.5" cy="1323.5" r="3.35"/>
<circle cx="1640.3" cy="1326.5" r="3.35"/>
<circle cx="1637.4" cy="1328.7" r="3.35"/>
<circle cx="1643.1" cy="1328.7" r="3.35"/>
<circle cx="1629" cy="1333.6" r="3.35"/>
<circle cx="1634.4" cy="1340.9" r="3.35"/>
<circle cx="1637.1" cy="1342.8" r="3.35"/>
<text x="-3.18" y="1692.1" font-size="45.3">E)</text>
<text x="201.39" y="1730.8" font-size="40.15" font-weight="bold">Proliferation score</text>
<line x1="135" y1="1699" x2="135" y2="2195.2" stroke="#000" stroke-width="1.6" stroke-linecap="square"/>
<line x1="124" y1="1699" x2="135" y2="1699" stroke="#000" stroke-width="1.6"/>
<text x="66.59" y="1715.19" font-size="34.6">0.5</text>
<line x1="124" y1="1864.4" x2="135" y2="1864.4" stroke="#000" stroke-width="1.6"/>
<text x="65.9" y="1877.89" font-size="34.6">0.0</text>
<line x1="124" y1="2029.8" x2="135" y2="2029.8" stroke="#000" stroke-width="1.6"/>
<text x="57.39" y="2042.09" font-size="34.6">-0.5</text>
<line x1="124" y1="2195.2" x2="135" y2="2195.2" stroke="#000" stroke-width="1.6"/>
<text x="57.8" y="2204.99" font-size="34.6">-1.0</text>
<text transform="translate(42,2080.12) rotate(-90)" x="0" y="0" font-size="36.08">Signature score</text>
<line x1="261.3" y1="2283.8" x2="480.3" y2="2283.8" stroke="#000" stroke-width="1.6" stroke-linecap="square"/>
<line x1="261.3" y1="2283.8" x2="261.3" y2="2293.4" stroke="#000" stroke-width="1.6"/>
<line x1="480.3" y1="2283.8" x2="480.3" y2="2293.4" stroke="#000" stroke-width="1.6"/>
<text x="210.35" y="2329.6" font-size="33.76" font-weight="bold">CCCA</text>
<text x="395.74" y="2331" font-size="33.45" font-weight="bold">Non-CCCA</text>
<line x1="261.3" y1="2153" x2="261.3" y2="2157" stroke="#000" stroke-width="1.6" stroke-dasharray="6.7 6.7"/>
<line x1="261.3" y1="2216" x2="261.3" y2="2190" stroke="#000" stroke-width="1.6" stroke-dasharray="6.7 6.7"/>
<line x1="228.7" y1="2153" x2="295" y2="2153" stroke="#000" stroke-width="1.6"/>
<line x1="228.7" y1="2216" x2="295" y2="2216" stroke="#000" stroke-width="1.6"/>
<rect x="196.2" y="2157" width="131.3" height="33" fill="#66C2A5" stroke="#000" stroke-width="1.6"/>
<line x1="196.2" y1="2162.4" x2="327.5" y2="2162.4" stroke="#000" stroke-width="4.4"/>
<line x1="480.3" y1="1797.8" x2="480.3" y2="1984.4" stroke="#000" stroke-width="1.6" stroke-dasharray="6.7 6.7"/>
<line x1="480.3" y1="2176.9" x2="480.3" y2="2172.6" stroke="#000" stroke-width="1.6" stroke-dasharray="6.7 6.7"/>
<line x1="447" y1="1797.8" x2="513.2" y2="1797.8" stroke="#000" stroke-width="1.6"/>
<line x1="447" y1="2176.9" x2="513.2" y2="2176.9" stroke="#000" stroke-width="1.6"/>
<rect x="415" y="1984.4" width="130.4" height="188.2" fill="#FC8D62" stroke="#000" stroke-width="1.6"/>
<line x1="415" y1="2110" x2="545.4" y2="2110" stroke="#000" stroke-width="4.4"/>
<circle cx="258" cy="2094" r="3"/>
<circle cx="267.8" cy="2106.7" r="3"/>
<circle cx="253.3" cy="2153.8" r="3"/>
<circle cx="261.3" cy="2159.2" r="3"/>
<circle cx="258.4" cy="2163.5" r="3"/>
<circle cx="264.2" cy="2161" r="3"/>
<circle cx="262.8" cy="2188.1" r="3"/>
<circle cx="267.8" cy="2190.7" r="3"/>
<circle cx="265.3" cy="2194.7" r="3"/>
<circle cx="255.2" cy="2209.9" r="3"/>
<circle cx="250.8" cy="2216.7" r="3"/>
<circle cx="469.8" cy="1798.5" r="3"/>
<circle cx="468.3" cy="1934.2" r="3"/>
<circle cx="488.6" cy="2035" r="3"/>
<circle cx="486.8" cy="2070.5" r="3"/>
<circle cx="489" cy="2151.6" r="3"/>
<circle cx="479.6" cy="2169.7" r="3"/>
<circle cx="469.4" cy="2177.3" r="3"/>
<text x="607.62" y="1692.1" font-size="45.3">F)</text>
<text x="901.4" y="1731" font-size="40.06" font-weight="bold">ROR-S</text>
<line x1="725.2" y1="1698.7" x2="725.2" y2="2261.2" stroke="#000" stroke-width="1.6" stroke-linecap="square"/>
<line x1="714" y1="1698.7" x2="725.2" y2="1698.7" stroke="#000" stroke-width="1.6"/>
<text x="667.59" y="1715.19" font-size="34.6">80</text>
<line x1="714" y1="1811.2" x2="725.2" y2="1811.2" stroke="#000" stroke-width="1.6"/>
<text x="668.59" y="1827.09" font-size="34.6">60</text>
<line x1="714" y1="1923.7" x2="725.2" y2="1923.7" stroke="#000" stroke-width="1.6"/>
<text x="668.59" y="1938.79" font-size="34.6">40</text>
<line x1="714" y1="2036.2" x2="725.2" y2="2036.2" stroke="#000" stroke-width="1.6"/>
<text x="667.59" y="2053.29" font-size="34.6">20</text>
<line x1="714" y1="2148.7" x2="725.2" y2="2148.7" stroke="#000" stroke-width="1.6"/>
<text x="686.49" y="2163.29" font-size="34.6">0</text>
<line x1="714" y1="2261.2" x2="725.2" y2="2261.2" stroke="#000" stroke-width="1.6"/>
<text x="657.6" y="2276.39" font-size="34.6">-20</text>
<line x1="851.3" y1="2283.8" x2="1070.3" y2="2283.8" stroke="#000" stroke-width="1.6" stroke-linecap="square"/>
<line x1="851.3" y1="2283.8" x2="851.3" y2="2293.4" stroke="#000" stroke-width="1.6"/>
<line x1="1070.3" y1="2283.8" x2="1070.3" y2="2293.4" stroke="#000" stroke-width="1.6"/>
<text x="800.37" y="2329.1" font-size="33.34" font-weight="bold">CCCA</text>
<text x="985.73" y="2329.8" font-size="33.59" font-weight="bold">Non-CCCA</text>
<line x1="851.3" y1="2158.8" x2="851.3" y2="2159.2" stroke="#000" stroke-width="1.6" stroke-dasharray="6.7 6.7"/>
<line x1="851.3" y1="2191" x2="851.3" y2="2177.3" stroke="#000" stroke-width="1.6" stroke-dasharray="6.7 6.7"/>
<line x1="818" y1="2158.8" x2="884.2" y2="2158.8" stroke="#000" stroke-width="1.6"/>
<line x1="818" y1="2191" x2="884.2" y2="2191" stroke="#000" stroke-width="1.6"/>
<rect x="784.7" y="2159.2" width="132.8" height="18.1" fill="#66C2A5" stroke="#000" stroke-width="1.6"/>
<line x1="784.7" y1="2165" x2="917.5" y2="2165" stroke="#000" stroke-width="4.4"/>
<line x1="1071.4" y1="1963.8" x2="1071.4" y2="2005.7" stroke="#000" stroke-width="1.6" stroke-dasharray="6.7 6.7"/>
<line x1="1071.4" y1="2181.6" x2="1071.4" y2="2170.4" stroke="#000" stroke-width="1.6" stroke-dasharray="6.7 6.7"/>
<line x1="1038.1" y1="1963.8" x2="1104.7" y2="1963.8" stroke="#000" stroke-width="1.6"/>
<line x1="1038.1" y1="2181.6" x2="1104.7" y2="2181.6" stroke="#000" stroke-width="1.6"/>
<rect x="1005.1" y="2005.7" width="132.5" height="164.7" fill="#FC8D62" stroke="#000" stroke-width="1.6"/>
<line x1="1005.1" y1="2102" x2="1137.6" y2="2102" stroke="#000" stroke-width="4.4"/>
<circle cx="841.9" cy="2077.4" r="3"/>
<circle cx="840.1" cy="2110" r="3"/>
<circle cx="840.8" cy="2127.7" r="3"/>
<circle cx="847.7" cy="2159.2" r="3"/>
<circle cx="849.1" cy="2159.9" r="3"/>
<circle cx="859.6" cy="2162.1" r="3"/>
<circle cx="839.4" cy="2165.7" r="3"/>
<circle cx="857.1" cy="2175.1" r="3"/>
<circle cx="859.6" cy="2176.9" r="3"/>
<circle cx="853.5" cy="2178" r="3"/>
<circle cx="844.4" cy="2181.6" r="3"/>
<circle cx="850.6" cy="2190.7" r="3"/>
<circle cx="856" cy="2191.8" r="3"/>
<circle cx="1066.3" cy="1733.4" r="3"/>
<circle cx="1080" cy="1964.5" r="3"/>
<circle cx="1076.1" cy="2047.7" r="3"/>
<circle cx="1069.5" cy="2056.4" r="3"/>
<circle cx="1072.4" cy="2149.4" r="3"/>
<circle cx="1065.6" cy="2161.4" r="3"/>
<circle cx="1064.1" cy="2181.6" r="3"/>
<text x="1186.93" y="1692.1" font-size="45.3">G)</text>
<text x="1485.39" y="1732.3" font-size="40.16" font-weight="bold">ROR-P</text>
<line x1="1314.2" y1="1698.7" x2="1314.2" y2="2261.2" stroke="#000" stroke-width="1.6" stroke-linecap="square"/>
<line x1="1302.5" y1="1698.7" x2="1314.2" y2="1698.7" stroke="#000" stroke-width="1.6"/>
<text x="1256.69" y="1713.99" font-size="34.6">80</text>
<line x1="1302.5" y1="1811.2" x2="1314.2" y2="1811.2" stroke="#000" stroke-width="1.6"/>
<text x="1258.59" y="1826.39" font-size="34.6">60</text>
<line x1="1302.5" y1="1923.7" x2="1314.2" y2="1923.7" stroke="#000" stroke-width="1.6"/>
<text x="1258.59" y="1938.79" font-size="34.6">40</text>
<line x1="1302.5" y1="2036.2" x2="1314.2" y2="2036.2" stroke="#000" stroke-width="1.6"/>
<text x="1256.09" y="2053.29" font-size="34.6">20</text>
<line x1="1302.5" y1="2148.7" x2="1314.2" y2="2148.7" stroke="#000" stroke-width="1.6"/>
<text x="1275.29" y="2163.29" font-size="34.6">0</text>
<line x1="1302.5" y1="2261.2" x2="1314.2" y2="2261.2" stroke="#000" stroke-width="1.6"/>
<text x="1247" y="2275.69" font-size="34.6">-20</text>
<line x1="1440.2" y1="2283.7" x2="1659.2" y2="2283.7" stroke="#000" stroke-width="1.6" stroke-linecap="square"/>
<line x1="1440.2" y1="2283.7" x2="1440.2" y2="2293.3" stroke="#000" stroke-width="1.6"/>
<line x1="1659.2" y1="2283.7" x2="1659.2" y2="2293.3" stroke="#000" stroke-width="1.6"/>
<text x="1390.35" y="2326" font-size="33.76" font-weight="bold">CCCA</text>
<text x="1575.74" y="2327.6" font-size="33.5" font-weight="bold">Non-CCCA</text>
<line x1="1440.3" y1="2196.5" x2="1440.3" y2="2197.6" stroke="#000" stroke-width="1.6" stroke-dasharray="6.7 6.7"/>
<line x1="1440.3" y1="2235.2" x2="1440.3" y2="2219.6" stroke="#000" stroke-width="1.6" stroke-dasharray="6.7 6.7"/>
<line x1="1407" y1="2196.5" x2="1473.6" y2="2196.5" stroke="#000" stroke-width="1.6"/>
<line x1="1407" y1="2235.2" x2="1473.6" y2="2235.2" stroke="#000" stroke-width="1.6"/>
<rect x="1374.8" y="2197.6" width="131.4" height="22" fill="#66C2A5" stroke="#000" stroke-width="1.6"/>
<line x1="1374.8" y1="2202.3" x2="1506.2" y2="2202.3" stroke="#000" stroke-width="4.4"/>
<line x1="1659.3" y1="1807.2" x2="1659.3" y2="2017" stroke="#000" stroke-width="1.6" stroke-dasharray="6.7 6.7"/>
<line x1="1659.3" y1="2214.2" x2="1659.3" y2="2206.6" stroke="#000" stroke-width="1.6" stroke-dasharray="6.7 6.7"/>
<line x1="1626" y1="1807.2" x2="1691.9" y2="1807.2" stroke="#000" stroke-width="1.6"/>
<line x1="1626" y1="2214.2" x2="1691.9" y2="2214.2" stroke="#000" stroke-width="1.6"/>
<rect x="1593.4" y="2017" width="131.1" height="189.6" fill="#FC8D62" stroke="#000" stroke-width="1.6"/>
<line x1="1593.4" y1="2145.4" x2="1724.5" y2="2145.4" stroke="#000" stroke-width="4.4"/>
<circle cx="1435.3" cy="2131.3" r="3"/>
<circle cx="1446.1" cy="2141.5" r="3"/>
<circle cx="1429.9" cy="2197.2" r="3"/>
<circle cx="1439.6" cy="2199" r="3"/>
<circle cx="1440.7" cy="2202.3" r="3"/>
<circle cx="1441.4" cy="2207.3" r="3"/>
<circle cx="1432" cy="2219.6" r="3"/>
<circle cx="1442.5" cy="2219.6" r="3"/>
<circle cx="1436.7" cy="2225.4" r="3"/>
<circle cx="1442.9" cy="2234.8" r="3"/>
<circle cx="1446.5" cy="2234.8" r="3"/>
<circle cx="1661.9" cy="1807.9" r="3"/>
<circle cx="1666.6" cy="1964.5" r="3"/>
<circle cx="1663.7" cy="2069.8" r="3"/>
<circle cx="1654.6" cy="2110.3" r="3"/>
<circle cx="1650.6" cy="2180.9" r="3"/>
<circle cx="1653.5" cy="2202.3" r="3"/>
<circle cx="1668.4" cy="2211.7" r="3"/>
<circle cx="1664.4" cy="2214.6" r="3"/>
</svg>
</body></html>
